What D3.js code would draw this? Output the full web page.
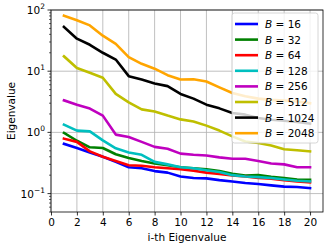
<!DOCTYPE html>
<html>
<head>
<meta charset="utf-8">
<script src="https://cdn.jsdelivr.net/npm/d3@7"></script>
<style>
  body { margin: 0; background: #fff; }
  svg { font-family: "DejaVu Sans", sans-serif; }
</style>
</head>
<body>
<svg id="chart" width="332" height="248"></svg>
<script>
// batch sizes and top-20 eigenvalues
const batchSizes = [16, 32, 64, 128, 256, 512, 1024, 2048];
const colors = ["#0000ff", "#008000", "#ff0000", "#00bfbf", "#bf00bf", "#bfbf00", "#000000", "#ffa500"];
const idx = d3.range(1, 21);

const eig16 = [0.65, 0.555, 0.47, 0.40, 0.33, 0.27, 0.26, 0.233, 0.22, 0.19, 0.18, 0.177, 0.166, 0.158, 0.149, 0.143, 0.136, 0.13, 0.128, 0.123];
const eig32 = [0.98, 0.73, 0.57, 0.555, 0.44, 0.38, 0.34, 0.31, 0.29, 0.27, 0.26, 0.25, 0.233, 0.21, 0.198, 0.20, 0.188, 0.18, 0.17, 0.168];
const eig64 = [0.79, 0.70, 0.49, 0.40, 0.34, 0.29, 0.285, 0.27, 0.26, 0.25, 0.236, 0.22, 0.21, 0.198, 0.19, 0.18, 0.175, 0.165, 0.158, 0.152];
const eig128 = [1.34, 1.07, 1.04, 0.74, 0.55, 0.47, 0.43, 0.33, 0.30, 0.27, 0.26, 0.24, 0.225, 0.20, 0.19, 0.186, 0.18, 0.17, 0.162, 0.158];
const eig256 = [3.34, 2.84, 2.45, 1.88, 0.92, 0.84, 0.70, 0.58, 0.54, 0.45, 0.43, 0.42, 0.39, 0.37, 0.37, 0.34, 0.31, 0.30, 0.27, 0.27];
const eig512 = [17.5, 11.3, 9.4, 7.8, 4.25, 3.1, 2.38, 2.2, 1.88, 1.63, 1.51, 1.29, 1.07, 0.86, 0.71, 0.67, 0.61, 0.53, 0.51, 0.49];
const eig1024 = [53, 34, 27, 20, 15.5, 8.3, 7.3, 6.3, 5.7, 4.25, 3.56, 2.84, 2.47, 2.08, 1.95, 1.72, 1.61, 1.55, 1.48, 1.39];
const eig2048 = [81, 68, 56, 38, 28, 17, 13.2, 11, 8.6, 7.3, 7.4, 6.8, 5.45, 4.4, 3.9, 3.56, 3.4, 3.3, 3.2, 3.0];

const series = [eig16, eig32, eig64, eig128, eig256, eig512, eig1024, eig2048];
const xTicks = d3.range(0, 21, 2);
const yTicks = [0.1, 1, 10, 100];
const yExps = [-1, 0, 1, 2];

const margin = {top: 10, right: 9, bottom: 36, left: 51};
const width = 332, height = 248;
const svg = d3.select("#chart");

const x = d3.scaleLinear().domain([0, 21]).range([margin.left, width - margin.right]);
const y = d3.scaleLog().domain([0.05, 100]).range([height - margin.bottom, margin.top]);

// grid
svg.append("g").selectAll("line").data(xTicks).enter().append("line")
    .attr("x1", d => x(d)).attr("x2", d => x(d))
    .attr("y1", margin.top).attr("y2", height - margin.bottom)
    .attr("stroke", "#b0b0b0").attr("stroke-width", 0.8);
svg.append("g").selectAll("line").data(yTicks).enter().append("line")
    .attr("x1", margin.left).attr("x2", width - margin.right)
    .attr("y1", d => y(d)).attr("y2", d => y(d))
    .attr("stroke", "#b0b0b0").attr("stroke-width", 0.8);

// lines
const line = d3.line().x((d, i) => x(idx[i])).y(d => y(d));
svg.append("g").selectAll("path").data(series).enter().append("path")
    .attr("d", d => line(d))
    .attr("fill", "none")
    .attr("stroke", (d, i) => colors[i])
    .attr("stroke-width", 2.6)
    .attr("stroke-linejoin", "round")
    .attr("stroke-linecap", "square");

// x axis
const xAxis = svg.append("g")
    .attr("transform", `translate(0,${height - margin.bottom})`)
    .call(d3.axisBottom(x).tickValues(xTicks).tickSize(3.5).tickPadding(3.5).tickFormat(d3.format("d")));
xAxis.select(".domain").remove();
xAxis.selectAll("text").attr("font-size", 10.5).attr("fill", "#000").attr("font-family", "DejaVu Sans");
xAxis.selectAll("line").attr("stroke", "#000").attr("stroke-width", 0.8);

// y axis, major + minor ticks
const minor = [];
[0.01, 0.1, 1, 10].forEach(base => {
  for (let k = 2; k <= 9; k++) {
    const v = base * k;
    if (v >= 0.05 && v <= 100) minor.push(v);
  }
});
const yAxis = svg.append("g").attr("transform", `translate(${margin.left},0)`);
yAxis.selectAll(".minor").data(minor).enter().append("line")
    .attr("x1", -2).attr("x2", 0)
    .attr("y1", d => y(d)).attr("y2", d => y(d))
    .attr("stroke", "#000").attr("stroke-width", 0.6);
yAxis.selectAll(".major").data(yTicks).enter().append("line")
    .attr("x1", -3.5).attr("x2", 0)
    .attr("y1", d => y(d)).attr("y2", d => y(d))
    .attr("stroke", "#000").attr("stroke-width", 0.8);
const yLab = yAxis.selectAll(".lab").data(yTicks).enter().append("text")
    .attr("text-anchor", "end")
    .attr("x", -6)
    .attr("y", d => y(d) + 4)
    .attr("font-size", 10.5);
yLab.append("tspan").text("10");
yLab.append("tspan").attr("font-size", 7.5).attr("dy", -5).text((d, i) => yExps[i] < 0 ? "\u2212" + Math.abs(yExps[i]) : yExps[i]);

// frame
svg.append("rect")
    .attr("x", margin.left).attr("y", margin.top)
    .attr("width", width - margin.left - margin.right)
    .attr("height", height - margin.top - margin.bottom)
    .attr("fill", "none").attr("stroke", "#000").attr("stroke-width", 0.8);

// axis labels
svg.append("text")
    .attr("x", (margin.left + width - margin.right) / 2)
    .attr("y", 241)
    .attr("text-anchor", "middle")
    .attr("font-size", 10.5)
    .text("i-th Eigenvalue");
svg.append("text")
    .attr("transform", `translate(15,${(margin.top + height - margin.bottom) / 2}) rotate(-90)`)
    .attr("text-anchor", "middle")
    .attr("font-size", 10.5)
    .text("Eigenvalue");

// legend
const lg = svg.append("g").attr("transform", "translate(232,13)");
lg.append("rect")
    .attr("width", 86).attr("height", 130)
    .attr("rx", 2.5)
    .attr("fill", "#fff").attr("fill-opacity", 0.8)
    .attr("stroke", "#cccccc").attr("stroke-width", 0.8);
const item = lg.selectAll(".item").data(batchSizes).enter().append("g")
    .attr("transform", (d, i) => `translate(0,${11 + i * 15.6})`);
item.append("line")
    .attr("x1", 3).attr("x2", 26)
    .attr("stroke", (d, i) => colors[i]).attr("stroke-width", 2.6);
const t = item.append("text")
    .attr("x", 33).attr("y", 4)
    .attr("font-size", 10.5);
t.append("tspan").attr("font-style", "italic").text("B");
t.append("tspan").text(d => " = " + d);
</script>
</body>
</html>
